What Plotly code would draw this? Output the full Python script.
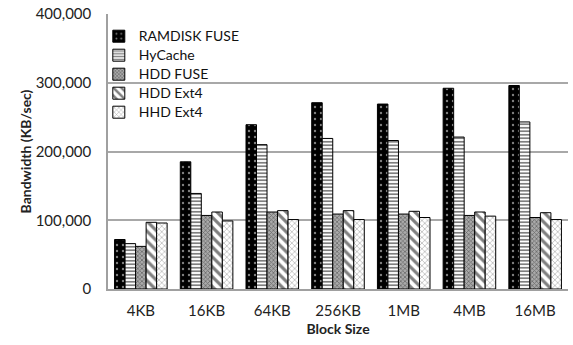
import plotly.graph_objects as go

categories = ["4KB", "16KB", "64KB", "256KB", "1MB", "4MB", "16MB"]
ramdisk_fuse = [72000, 185000, 239000, 271000, 269000, 292000, 296000]
hycache = [66000, 139000, 210000, 219000, 216000, 221000, 243000]
hdd_fuse = [62000, 107000, 112000, 109000, 109000, 107000, 104000]
hdd_ext4 = [97000, 112000, 114000, 114000, 113000, 112000, 111000]
hhd_ext4 = [96000, 99000, 101000, 101000, 104000, 106000, 101000]
series_names = ["RAMDISK FUSE", "HyCache", "HDD FUSE", "HDD Ext4", "HHD Ext4"]
y_ticks = [0, 100000, 200000, 300000, 400000]
y_tick_labels = ["0", "100,000", "200,000", "300,000", "400,000"]

FONT = "Lato, 'Open Sans', sans-serif"

patterns = [
    dict(shape=".", fgcolor="white", bgcolor="black", size=6, solidity=0.12),
    dict(shape="-", fgcolor="black", bgcolor="white", size=3.5, solidity=0.5),
    dict(shape="x", fgcolor="#2a2a2a", bgcolor="#aaaaaa", size=3, solidity=0.45),
    dict(shape="\\", fgcolor="black", bgcolor="white", size=7, solidity=0.45),
    dict(shape="x", fgcolor="#555555", bgcolor="white", size=4, solidity=0.3),
]
values = [ramdisk_fuse, hycache, hdd_fuse, hdd_ext4, hhd_ext4]

fig = go.Figure()
for name, vals, pat in zip(series_names, values, patterns):
    fig.add_trace(go.Bar(
        name='<span style="font-size:14px">' + name + '</span>',
        x=categories, y=vals,
        marker=dict(color=pat["bgcolor"], pattern=pat, line=dict(color="black", width=1)),
    ))

fig.update_layout(
    width=573, height=345,
    margin=dict(l=108, r=5, t=14, b=56),
    paper_bgcolor="white", plot_bgcolor="white",
    barmode="group", bargap=0.2, bargroupgap=0,
    font=dict(family=FONT, size=13, color="#222222"),
    showlegend=True,
    legend=dict(
        x=-0.02, y=0.972, xanchor="left", yanchor="top",
        bgcolor="rgba(255,255,255,0)",
        font=dict(size=12.3, color="#111111"),
        tracegroupgap=0,
    ),
    xaxis=dict(
        showline=True, linecolor="#a0a0a0", linewidth=1.5,
        ticks="", ticklabelstandoff=7, tickfont=dict(size=15),
        title=dict(text="<b>Block Size</b>", font=dict(size=14), standoff=6),
    ),
    yaxis=dict(
        range=[0, 400000], tickvals=y_ticks, ticktext=y_tick_labels,
        showgrid=True, gridcolor="#a8a8a8", gridwidth=1.5,
        showline=True, linecolor="#a0a0a0", linewidth=1.5,
        zeroline=False, ticks="", ticklabelstandoff=12, tickfont=dict(size=15),
        title=dict(text="<b>Bandwidth (KB/sec)</b>", font=dict(size=14), standoff=1),
    ),
)

fig.write_html("out.html")
